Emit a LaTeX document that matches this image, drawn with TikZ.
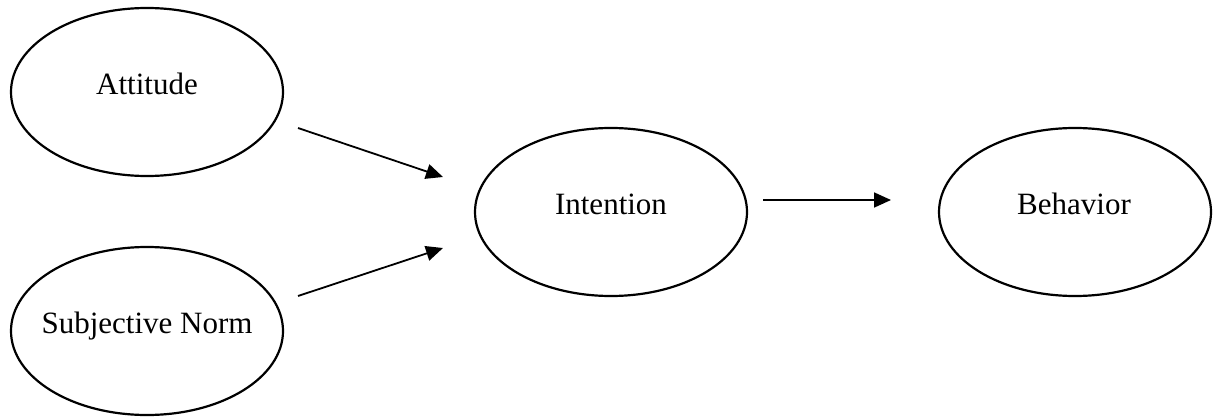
\documentclass[tikz,border=0pt]{standalone}
\usepackage{fontspec}
\setmainfont{Liberation Serif}
\usetikzlibrary{shapes.geometric,arrows.meta}
\begin{document}
\begin{tikzpicture}[x=1pt,y=-1pt,
  oval/.style={draw,line width=2.2pt,ellipse,minimum width=272pt,minimum height=168pt,inner sep=0pt},
  lbl/.style={anchor=base,inner sep=0pt,font=\fontsize{31pt}{37pt}\selectfont},
  conn/.style={line width=1.8pt,-{Triangle[length=17pt,width=15pt]}}]
\useasboundingbox (0,0) rectangle (1217,417);
\node[oval] (att) at (147,92) {};
\node[oval] (sn) at (147,331) {};
\node[oval] (int) at (611,212) {};
\node[oval] (beh) at (1075,212) {};
\node[lbl] (attl) at (147,95) {Attitude};
\node[lbl] (snl) at (147,333) {Subjective Norm};
\node[lbl] (intl) at (611,214) {Intention};
\node[lbl] (behl) at (1074,214) {Behavior};
\coordinate (a1) at (298,128);
\coordinate (a2) at (443,177);
\coordinate (b1) at (298,296);
\coordinate (b2) at (443,248);
\coordinate (c1) at (763,200);
\coordinate (c2) at (891,200);
\draw[conn] (a1) -- (a2);
\draw[conn] (b1) -- (b2);
\draw[conn] (c1) -- (c2);
\end{tikzpicture}
\end{document}
